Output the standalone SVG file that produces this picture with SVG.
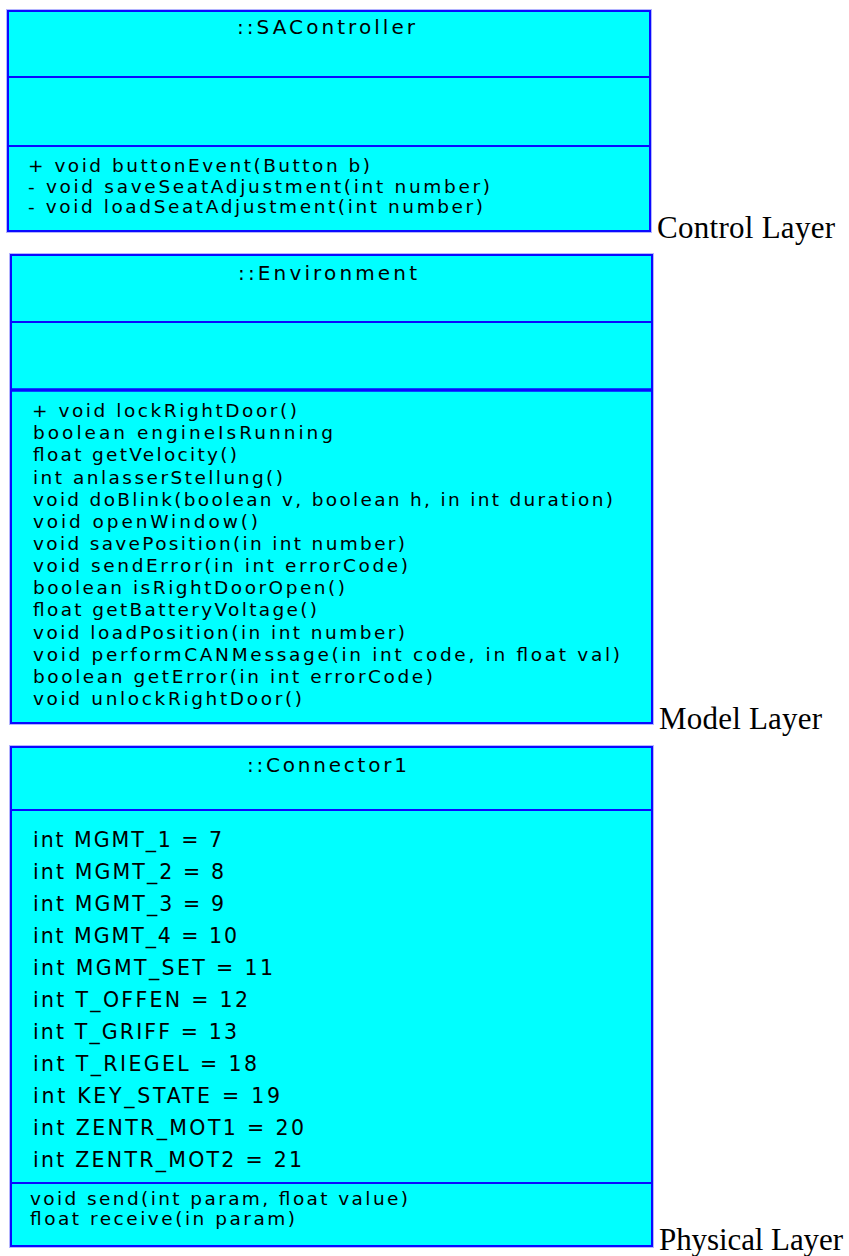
<svg xmlns="http://www.w3.org/2000/svg" width="849" height="1256" viewBox="0 0 849 1256">
  <style>
    .halo { fill: none; stroke: #b4b4ff; stroke-width: 4; }
    .box { fill: #00ffff; stroke: #0a0aff; stroke-width: 2; }
    .div { stroke: #0a0aff; stroke-width: 2; }
    .thick { stroke: #0a0aff; stroke-width: 3.5; }
    .title { font-family: "DejaVu Sans", "Liberation Sans", sans-serif; font-size: 20px; fill: #000; }
    .m1 { font-family: "DejaVu Sans", "Liberation Sans", sans-serif; font-size: 18.5px; fill: #000; }
    .m2 { font-family: "DejaVu Sans", "Liberation Sans", sans-serif; font-size: 18.5px; fill: #000; }
    .a3 { font-family: "DejaVu Sans", "Liberation Sans", sans-serif; font-size: 20.5px; fill: #000; }
    .layer { font-family: "Liberation Serif", "Times New Roman", serif; font-size: 31px; fill: #000; }
  </style>

  <g id="SAController">
    <rect class="halo" x="8" y="11" width="642" height="220"/>
    <rect class="box" x="8" y="11" width="642" height="220"/>
    <line class="div" x1="8" y1="77" x2="650" y2="77"/>
    <line class="div" x1="8" y1="146" x2="650" y2="146"/>
    <text class="title" x="237" y="34" textLength="178">::SAController</text>
    <text class="m1" x="28" y="172" textLength="342">+ void buttonEvent(Button b)</text>
    <text class="m1" x="28" y="193" textLength="462">- void saveSeatAdjustment(int number)</text>
    <text class="m1" x="28" y="213" textLength="455">- void loadSeatAdjustment(int number)</text>
  </g>

  <g id="Environment">
    <rect class="halo" x="11" y="255" width="641" height="468"/>
    <rect class="box" x="11" y="255" width="641" height="468"/>
    <line class="div" x1="11" y1="322" x2="652" y2="322"/>
    <line class="thick" x1="11" y1="390" x2="652" y2="390"/>
    <text class="title" x="238" y="280" textLength="179">::Environment</text>
    <text class="m2" x="32" y="417" textLength="265">+ void lockRightDoor()</text>
    <text class="m2" x="33" y="439" textLength="300">boolean engineIsRunning</text>
    <text class="m2" x="33" y="461" textLength="204">float getVelocity()</text>
    <text class="m2" x="33" y="483.5" textLength="250">int anlasserStellung()</text>
    <text class="m2" x="33" y="505.6" textLength="580">void doBlink(boolean v, boolean h, in int duration)</text>
    <text class="m2" x="33" y="527.8" textLength="225">void openWindow()</text>
    <text class="m2" x="33" y="550" textLength="372">void savePosition(in int number)</text>
    <text class="m2" x="33" y="572" textLength="375">void sendError(in int errorCode)</text>
    <text class="m2" x="33" y="594" textLength="312">boolean isRightDoorOpen()</text>
    <text class="m2" x="33" y="616" textLength="284">float getBatteryVoltage()</text>
    <text class="m2" x="33" y="638.5" textLength="372">void loadPosition(in int number)</text>
    <text class="m2" x="33" y="660.7" textLength="587">void performCANMessage(in int code, in float val)</text>
    <text class="m2" x="33" y="683" textLength="400">boolean getError(in int errorCode)</text>
    <text class="m2" x="33" y="705" textLength="269">void unlockRightDoor()</text>
  </g>

  <g id="Connector1">
    <rect class="halo" x="11" y="747" width="641" height="499"/>
    <rect class="box" x="11" y="747" width="641" height="499"/>
    <line class="div" x1="11" y1="810" x2="652" y2="810"/>
    <line class="div" x1="11" y1="1183" x2="652" y2="1183"/>
    <text class="title" x="247" y="772" textLength="160">::Connector1</text>
    <text class="a3" x="33" y="847" textLength="189">int MGMT_1 = 7</text>
    <text class="a3" x="33" y="879" textLength="191">int MGMT_2 = 8</text>
    <text class="a3" x="33" y="911" textLength="191">int MGMT_3 = 9</text>
    <text class="a3" x="33" y="943" textLength="204">int MGMT_4 = 10</text>
    <text class="a3" x="33" y="975" textLength="240">int MGMT_SET = 11</text>
    <text class="a3" x="33" y="1007" textLength="215">int T_OFFEN = 12</text>
    <text class="a3" x="33" y="1039" textLength="204">int T_GRIFF = 13</text>
    <text class="a3" x="33" y="1071" textLength="224">int T_RIEGEL = 18</text>
    <text class="a3" x="33" y="1103" textLength="247">int KEY_STATE = 19</text>
    <text class="a3" x="33" y="1135" textLength="271">int ZENTR_MOT1 = 20</text>
    <text class="a3" x="33" y="1167" textLength="269">int ZENTR_MOT2 = 21</text>
    <text class="m2" x="30" y="1205" textLength="378">void send(int param, float value)</text>
    <text class="m2" x="30" y="1225" textLength="265">float receive(in param)</text>
  </g>

  <g id="layer-labels">
    <text class="layer" x="657" y="238" textLength="178">Control Layer</text>
    <text class="layer" x="659" y="729" textLength="163">Model Layer</text>
    <text class="layer" x="659" y="1250" textLength="184">Physical Layer</text>
  </g>

  <g id="connectors"/>
</svg>
